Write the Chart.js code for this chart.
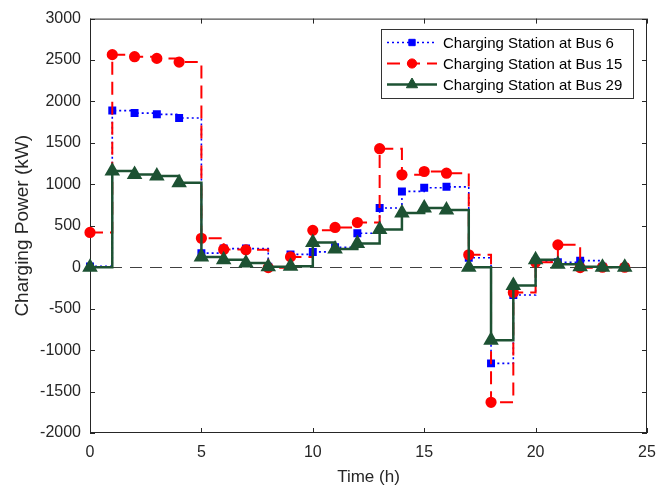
<!DOCTYPE html>
<html>
<head>
<meta charset="utf-8">
<script src="https://cdn.jsdelivr.net/npm/chart.js@4/dist/chart.umd.min.js"></script>
<style>
  html, body { margin: 0; padding: 0; background: #fff; }
  canvas { display: block; }
</style>
</head>
<body>
<canvas id="grafik" width="671" height="491"></canvas>
<script>
// ======================
// DATA
// ======================

const jam = [0,1,2,3,4,5,6,7,8,9,10,11,12,13,14,15,16,17,18,19,20,21,22,23,24];

const bus6 = [
10,1890,1860,1845,1800,
170,225,225,5,155,
185,240,410,715,915,
960,970,115,-1160,-335,
70,60,80,5,0
];

const bus15 = [
420,2565,2540,2520,2475,
350,215,210,-5,125,
445,480,540,1430,1115,
1155,1135,150,-1630,-305,
60,270,-5,0,0
];

const bus29 = [
0,1160,1120,1100,1020,
125,90,50,5,12,
300,220,285,455,655,
715,690,0,-880,-220,
90,35,5,0,0
];

const xTicks = [0,5,10,15,20,25];
const yMin = -2000, yMax = 3000, yStep = 500;

const warnaAxis = "#262626";
const fontUtama = "'Liberation Sans', Arial, Helvetica, sans-serif";

function jadikanTitik(nilai) {
    return jam.map((t, i) => ({ x: t, y: nilai[i] }));
}

// ======================
// PLUGIN: KOTAK, TICK DALAM, GARIS NOL, LEGENDA
// ======================

const kotakMatlab = {
    id: "kotakMatlab",
    beforeDatasetsDraw(chart) {
        const { ctx, chartArea: a, scales } = chart;
        const sx = scales.x, sy = scales.y;
        ctx.save();

        // garis nol putus-putus
        const y0 = Math.round(sy.getPixelForValue(0)) + 0.5;
        ctx.strokeStyle = "#404040";
        ctx.lineWidth = 1;
        ctx.setLineDash([12, 8]);
        ctx.beginPath();
        ctx.moveTo(a.left, y0);
        ctx.lineTo(a.right, y0);
        ctx.stroke();
        ctx.setLineDash([]);

        // kotak
        ctx.strokeStyle = warnaAxis;
        ctx.lineWidth = 1;
        ctx.strokeRect(a.left + 0.5, a.top + 0.5, a.right - a.left - 1, a.bottom - a.top - 1);

        // tick ke dalam
        const pj = 5;
        ctx.beginPath();
        xTicks.forEach(v => {
            const px = Math.round(sx.getPixelForValue(v)) + 0.5;
            ctx.moveTo(px, a.bottom);
            ctx.lineTo(px, a.bottom - pj);
            ctx.moveTo(px, a.top);
            ctx.lineTo(px, a.top + pj);
        });
        for (let v = yMin; v <= yMax; v += yStep) {
            const py = Math.round(sy.getPixelForValue(v)) + 0.5;
            ctx.moveTo(a.left, py);
            ctx.lineTo(a.left + pj, py);
            ctx.moveTo(a.right, py);
            ctx.lineTo(a.right - pj, py);
        }
        ctx.stroke();
        ctx.restore();
    },
    afterDraw(chart) {
        const { ctx } = chart;
        const kiri = 381, atas = 29, lebar = 252, tinggi = 69;
        const barisY = [42.5, 63.5, 84.5];

        ctx.save();
        ctx.fillStyle = "#fff";
        ctx.fillRect(kiri, atas, lebar, tinggi);
        ctx.strokeStyle = "#333";
        ctx.lineWidth = 1;
        ctx.strokeRect(kiri + 0.5, atas + 0.5, lebar, tinggi);

        chart.data.datasets.forEach((ds, i) => {
            const y = barisY[i];
            ctx.strokeStyle = ds.borderColor;
            ctx.lineWidth = ds.borderWidth;
            ctx.setLineDash(ds.borderDash || []);
            ctx.beginPath();
            ctx.moveTo(387, y);
            ctx.lineTo(437, y);
            ctx.stroke();
            ctx.setLineDash([]);

            ctx.fillStyle = ds.pointBackgroundColor;
            ctx.strokeStyle = ds.pointBorderColor;
            ctx.lineWidth = 1;
            Chart.helpers.drawPoint(ctx, {
                pointStyle: ds.pointStyle,
                radius: ds.pointRadius,
                borderWidth: 1,
                rotation: 0
            }, 412, y);

            ctx.fillStyle = "#000";
            ctx.font = "15px " + fontUtama;
            ctx.textBaseline = "middle";
            ctx.textAlign = "left";
            ctx.fillText(ds.label, 443, y + 1);
        });
        ctx.restore();
    }
};

// ======================
// GRAFIK
// ======================

const ctx = document.getElementById("grafik");

new Chart(ctx, {
    type: "line",
    data: {
        datasets: [
            {
                label: "Charging Station at Bus 6",
                data: jadikanTitik(bus6),
                borderColor: "#0000ff",
                borderWidth: 1.6,
                borderDash: [2, 3],
                pointStyle: "rect",
                pointRadius: 4.5,
                pointBackgroundColor: "#0000ff",
                pointBorderColor: "#0000ff",
                stepped: true,
                order: 2
            },
            {
                label: "Charging Station at Bus 15",
                data: jadikanTitik(bus15),
                borderColor: "#ff0000",
                borderWidth: 2,
                borderDash: [13, 7],
                pointStyle: "circle",
                pointRadius: 4.6,
                pointBackgroundColor: "#ff0000",
                pointBorderColor: "#ff0000",
                stepped: true,
                order: 1
            },
            {
                label: "Charging Station at Bus 29",
                data: jadikanTitik(bus29),
                borderColor: "#1d5233",
                borderWidth: 2.5,
                pointStyle: "triangle",
                pointRadius: 6.5,
                pointBackgroundColor: "#1d5233",
                pointBorderColor: "#1d5233",
                stepped: true,
                order: 0
            }
        ]
    },
    options: {
        responsive: false,
        animation: false,
        clip: false,
        devicePixelRatio: 1,
        layout: { padding: { left: 0, right: 24, top: 15, bottom: 0 } },
        plugins: {
            legend: { display: false },
            tooltip: { enabled: false }
        },
        elements: {
            line: { tension: 0, fill: false },
            point: { hoverRadius: 5, borderWidth: 1 }
        },
        scales: {
            x: {
                type: "linear",
                min: 0,
                max: 25,
                afterBuildTicks(s) { s.ticks = xTicks.map(v => ({ value: v })); },
                afterFit(s) { s.height = 58; },
                grid: { display: false, drawTicks: false },
                border: { display: false },
                ticks: {
                    padding: 10,
                    autoSkip: false,
                    maxRotation: 0,
                    color: warnaAxis,
                    font: { family: fontUtama, size: 16 },
                    callback: v => String(v)
                },
                title: {
                    display: true,
                    text: "Time (h)",
                    color: warnaAxis,
                    font: { family: fontUtama, size: 17 },
                    padding: { top: 0, bottom: 3 }
                }
            },
            y: {
                min: yMin,
                max: yMax,
                afterFit(s) { s.width = 90; },
                grid: { display: false, drawTicks: false },
                border: { display: false },
                ticks: {
                    stepSize: yStep,
                    padding: 9,
                    autoSkip: false,
                    color: warnaAxis,
                    font: { family: fontUtama, size: 16 },
                    callback: v => String(v)
                },
                title: {
                    display: true,
                    text: "Charging Power (kW)",
                    color: warnaAxis,
                    font: { family: fontUtama, size: 19 },
                    padding: { top: 11, bottom: 0 }
                }
            }
        }
    },
    plugins: [kotakMatlab]
});
</script>
</body>
</html>
